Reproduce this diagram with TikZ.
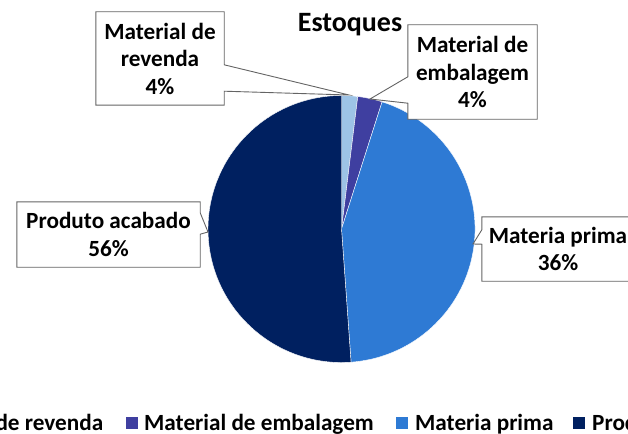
\documentclass[tikz,border=0pt]{standalone}
\usepackage{fontspec}
\setmainfont{Carlito}
\usepackage{tikz}

\definecolor{clrev}{RGB}{157,195,230}
\definecolor{clemb}{RGB}{63,63,160}
\definecolor{clmp}{RGB}{46,122,212}
\definecolor{clpa}{RGB}{0,32,96}
\definecolor{clline}{RGB}{100,100,100}

\tikzset{
  slice/.style={draw=white,line width=0.4pt},
  labbox/.style={inner sep=0pt,align=center,font=\bfseries\fontsize{23.2}{27.5}\selectfont},
  callline/.style={draw=clline,line width=0.9pt,fill=white,line join=miter},
  legsq/.style={minimum size=12pt,inner sep=0pt},
  legtxt/.style={anchor=base west,inner sep=0pt,font=\bfseries\fontsize{23.2}{27.5}\selectfont}
}

\begin{document}
\begin{tikzpicture}[x=1pt,y=1pt]
\useasboundingbox (0,0) rectangle (628,-433);
\clip (0,0) rectangle (628,-433);

%Заголовок
\node[anchor=base,inner sep=0pt,font=\bfseries\fontsize{28}{34}\selectfont] (title) at (350,-32) {Estoques};

%Построение диаграммы
\begin{scope}[shift={(341.5,-229)}]
\def\r{133.5}
\foreach \a/\b/\c in {90/83/clrev,83/72.3/clemb,72.3/-85.9/clmp,-85.9/-270/clpa}
  \draw[slice,fill=\c] (0,0) -- (\a:\r) arc[start angle=\a,end angle=\b,radius=\r] -- cycle;
\end{scope}

%Подписи
\coordinate (tiprev) at (349,-95);
\coordinate (tipemb) at (370,-99);
\coordinate (tippa) at (208,-232);
\coordinate (tipmp) at (473,-244);

\node[labbox,minimum width=128pt,minimum height=93pt] (rev) at (160,-58.5) {};
\draw[callline] (rev.north west) -- (rev.north east) -- ([yshift=-53]rev.north east) -- (tiprev)
  -- ([yshift=14]rev.south east) -- (rev.south east) -- (rev.south west) -- cycle;
\node[labbox] at (rev) {Material de\\revenda\\4\%};

\node[labbox,minimum width=129pt,minimum height=94pt] (emb) at (472.5,-72) {};
\draw[callline] (emb.north west) -- (emb.north east) -- (emb.south east) -- (emb.south west)
  -- ([yshift=16]emb.south west) -- (tipemb) -- ([yshift=-52]emb.north west) -- cycle;
\node[labbox] at (emb) {Material de\\embalagem\\4\%};

\node[labbox,minimum width=183pt,minimum height=65pt] (pa) at (108.5,-234.5) {};
\draw[callline] (pa.north west) -- (pa.north east) -- ([yshift=-11]pa.north east) -- (tippa)
  -- ([yshift=33]pa.south east) -- (pa.south east) -- (pa.south west) -- cycle;
\node[labbox] at (pa) {Produto acabado\\56\%};

\node[labbox,minimum width=152pt,minimum height=64pt] (mp) at (558,-249) {};
\draw[callline] (mp.north west) -- (mp.north east) -- (mp.south east) -- (mp.south west)
  -- ([yshift=37]mp.south west) -- (tipmp) -- ([yshift=-13]mp.north west) -- cycle;
\node[labbox] at (mp) {Materia prima\\36\%};

%Легенда
\node[legsq,fill=clrev] (sqrev) at (-104,-423) {};
\node[legtxt] (lrev) at (-92,-430) {Material de revenda};
\node[legsq,fill=clemb] (sqemb) at (132,-423) {};
\node[legtxt] (lemb) at (144,-430) {Material de embalagem};
\node[legsq,fill=clmp] (sqmp) at (402,-423) {};
\node[legtxt] (lmp) at (415,-430) {Materia prima};
\node[legsq,fill=clpa] (sqpa) at (579,-423) {};
\node[legtxt] (lpa) at (592,-430) {Produto acabado};

\end{tikzpicture}
\end{document}
